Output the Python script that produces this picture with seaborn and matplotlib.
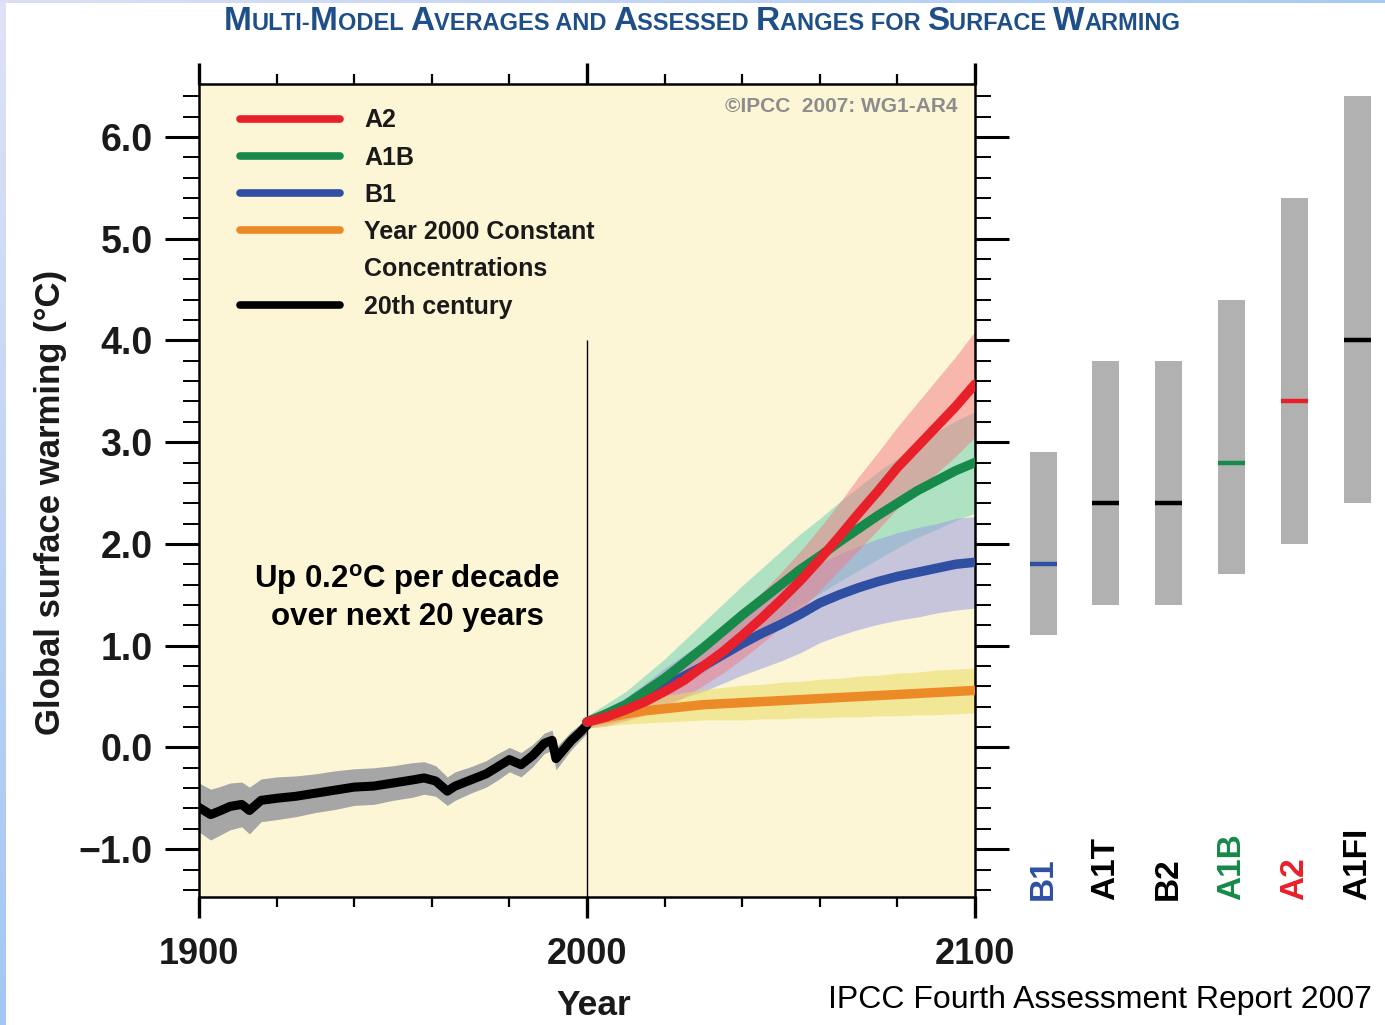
import numpy as np
import pandas as pd
import seaborn as sns
import matplotlib.pyplot as plt
from matplotlib.lines import Line2D
from matplotlib.colors import LinearSegmentedColormap
from matplotlib.ticker import MultipleLocator, FuncFormatter
from matplotlib.offsetbox import TextArea, HPacker, AnchoredOffsetbox

# ---------------- data ----------------
hist_years = [1900, 1903, 1905, 1908, 1911, 1913, 1916, 1920, 1925, 1930, 1935,
              1940, 1945, 1950, 1955, 1958, 1961, 1964, 1966, 1970, 1974, 1977,
              1980, 1983, 1986, 1989, 1991, 1992, 1994, 1996, 1998, 2000]
hist_mean = [-0.59, -0.66, -0.63, -0.58, -0.56, -0.62, -0.52, -0.50, -0.48, -0.45, -0.42,
             -0.39, -0.38, -0.35, -0.32, -0.30, -0.33, -0.43, -0.38, -0.32, -0.26, -0.19,
             -0.12, -0.17, -0.08, 0.04, 0.07, -0.11, -0.02, 0.07, 0.14, 0.22]
hist_spread = [0.24, 0.25, 0.24, 0.23, 0.22, 0.23, 0.21, 0.21, 0.20, 0.19, 0.19,
               0.18, 0.18, 0.17, 0.17, 0.16, 0.15, 0.14, 0.14, 0.13, 0.13, 0.13,
               0.12, 0.12, 0.11, 0.10, 0.10, 0.11, 0.10, 0.09, 0.08, 0.08]

proj_years = [2000, 2005, 2010, 2015, 2020, 2025, 2030, 2035, 2040, 2045, 2050,
              2055, 2060, 2065, 2070, 2075, 2080, 2085, 2090, 2095, 2100]
a2_mean = [0.25, 0.30, 0.37, 0.45, 0.55, 0.66, 0.80, 0.94, 1.10, 1.27, 1.45,
           1.64, 1.85, 2.07, 2.30, 2.52, 2.75, 2.95, 3.15, 3.35, 3.57]
a2_spread = [0.06, 0.09, 0.11, 0.13, 0.15, 0.17, 0.19, 0.21, 0.23, 0.25, 0.27,
             0.29, 0.31, 0.33, 0.36, 0.38, 0.40, 0.43, 0.46, 0.49, 0.52]
a1b_mean = [0.25, 0.33, 0.42, 0.55, 0.68, 0.83, 0.98, 1.14, 1.30, 1.45, 1.60,
            1.75, 1.88, 2.02, 2.15, 2.28, 2.40, 2.52, 2.62, 2.72, 2.80]
a1b_spread = [0.06, 0.10, 0.13, 0.16, 0.19, 0.22, 0.25, 0.27, 0.29, 0.31, 0.33,
              0.35, 0.37, 0.39, 0.41, 0.43, 0.44, 0.46, 0.48, 0.49, 0.50]
b1_mean = [0.25, 0.31, 0.38, 0.49, 0.60, 0.70, 0.80, 0.91, 1.02, 1.12, 1.21,
           1.31, 1.42, 1.50, 1.57, 1.63, 1.68, 1.72, 1.76, 1.80, 1.82]
b1_spread = [0.06, 0.08, 0.11, 0.14, 0.18, 0.21, 0.25, 0.28, 0.31, 0.34, 0.36,
             0.38, 0.39, 0.40, 0.41, 0.42, 0.43, 0.44, 0.44, 0.45, 0.45]
const_mean = [0.25, 0.29, 0.33, 0.36, 0.38, 0.40, 0.42, 0.43, 0.44, 0.45, 0.46,
              0.47, 0.48, 0.49, 0.50, 0.51, 0.52, 0.53, 0.54, 0.55, 0.56]
const_spread = [0.06, 0.08, 0.10, 0.12, 0.13, 0.14, 0.15, 0.16, 0.17, 0.17, 0.18,
                0.18, 0.19, 0.19, 0.20, 0.20, 0.21, 0.21, 0.22, 0.22, 0.22]

# likely ranges and best estimates for 2090-2099
scenarios = ["B1", "A1T", "B2", "A1B", "A2", "A1FI"]
range_low = [1.1, 1.4, 1.4, 1.7, 2.0, 2.4]
range_high = [2.9, 3.8, 3.8, 4.4, 5.4, 6.4]
best_est = [1.8, 2.4, 2.4, 2.8, 3.4, 4.0]

# ---------------- styling ----------------
RED, GREEN, BLUE, ORANGE = "#e8202a", "#17894a", "#2f4fa3", "#ec8a28"
scen_colors = [BLUE, "black", "black", GREEN, RED, "black"]
CREAM = "#fdf6d6"

sns.set_theme(style="ticks")
plt.rcParams["font.family"] = ["Liberation Sans", "DejaVu Sans"]
plt.rcParams["mathtext.fontset"] = "custom"
plt.rcParams["mathtext.rm"] = "Liberation Sans"
plt.rcParams["mathtext.bf"] = "Liberation Sans:bold"

W, H = 1385, 1025
fig = plt.figure(figsize=(W / 100, H / 100), dpi=100)
fig.patch.set_facecolor("white")

# decorative slide borders
left_strip = fig.add_axes([0, 0, 6 / W, 1])
left_strip.imshow(np.linspace(0, 1, 256).reshape(-1, 1), aspect="auto",
                  cmap=LinearSegmentedColormap.from_list("ls", ["#dfe2f4", "#a2c7f4"]))
left_strip.set_axis_off()
top_strip = fig.add_axes([0, 1 - 3 / H, 1, 3 / H])
top_strip.imshow(np.linspace(0, 1, 256).reshape(1, -1), aspect="auto",
                 cmap=LinearSegmentedColormap.from_list("ts", ["#dcdff3", "#a6caf5"]))
top_strip.set_axis_off()

YLIM = (-1.47, 6.52)

# ---------------- main time-series panel ----------------
ax = fig.add_axes([199 / W, 1 - 897 / H, 776 / W, 813 / H])
ax.set_facecolor(CREAM)
ax.set_xlim(1900, 2100)
ax.set_ylim(*YLIM)

hy = np.array(hist_years)
hm = np.array(hist_mean)
hs = np.array(hist_spread)
ax.fill_between(hy, hm - hs, hm + hs, color="#a6a6a6", lw=0, zorder=1)

py = np.array(proj_years)
bands = [
    (np.array(a1b_mean), np.array(a1b_spread), "#62d0b0", 0.50),
    (np.array(b1_mean), np.array(b1_spread), "#9c9ee0", 0.55),
    (np.array(a2_mean), np.array(a2_spread), "#f27a86", 0.50),
    (np.array(const_mean), np.array(const_spread), "#e9dc62", 0.55),
]
for m, s, c, a in bands:
    ax.fill_between(py, m - s, m + s, color=c, alpha=a, lw=0, zorder=1)

ax.vlines(2000, YLIM[0], 4.0, color="black", lw=1.0, zorder=2)

line_w = 6.8
sns.lineplot(x=hist_years, y=hist_mean, ax=ax, color="black", lw=6.5, zorder=3)
sns.lineplot(x=proj_years, y=const_mean, ax=ax, color=ORANGE, lw=line_w, zorder=3)
sns.lineplot(x=proj_years, y=b1_mean, ax=ax, color=BLUE, lw=line_w, zorder=3)
sns.lineplot(x=proj_years, y=a1b_mean, ax=ax, color=GREEN, lw=line_w, zorder=3)
sns.lineplot(x=proj_years, y=a2_mean, ax=ax, color=RED, lw=line_w, zorder=4)

ax.xaxis.set_major_locator(MultipleLocator(100))
ax.xaxis.set_minor_locator(MultipleLocator(20))
ax.yaxis.set_major_locator(MultipleLocator(1))
ax.yaxis.set_minor_locator(MultipleLocator(0.2))
ax.yaxis.set_major_formatter(FuncFormatter(lambda v, p: f"{v:.1f}".replace("-", "\u2212")))
ax.xaxis.set_major_formatter(FuncFormatter(lambda v, p: f"{v:.0f}"))
ax.tick_params(axis="both", which="both", direction="out", top=True, right=True,
               labeltop=False, labelright=False, colors="black")
ax.tick_params(axis="y", which="major", length=24.5, width=2.2, pad=9, labelsize=27)
ax.tick_params(axis="y", which="minor", length=11.5, width=1.4)
ax.tick_params(axis="x", which="major", length=15, width=2.4, pad=14, labelsize=26)
ax.tick_params(axis="x", which="minor", length=7.5, width=1.6)
for lab in ax.get_xticklabels() + ax.get_yticklabels():
    lab.set_fontweight("bold")
    lab.set_color("#1a1a1a")
for sp in ax.spines.values():
    sp.set_linewidth(1.8)
    sp.set_color("black")
    sp.set_visible(True)

ax.set_ylabel("Global surface warming (\u00b0C)", fontsize=25, fontweight="bold",
              color="#1a1a1a", va="center", ha="center")
ax.yaxis.set_label_coords(-0.192, 0.485)
ax.set_xlabel("Year", fontsize=25.5, fontweight="bold", color="#1a1a1a",
              va="center", ha="center")
ax.xaxis.set_label_coords(0.509, -0.133)

# legend
handles = [
    Line2D([], [], color=RED, lw=5.5, solid_capstyle="round"),
    Line2D([], [], color=GREEN, lw=5.5, solid_capstyle="round"),
    Line2D([], [], color=BLUE, lw=5.5, solid_capstyle="round"),
    Line2D([], [], color=ORANGE, lw=5.5, solid_capstyle="round"),
    Line2D([], [], color="none", lw=0),
    Line2D([], [], color="black", lw=5.5, solid_capstyle="round"),
]
labels = ["A2", "A1B", "B1", "Year 2000 Constant", "Concentrations", "20th century"]
leg = ax.legend(handles, labels, loc="upper left", bbox_to_anchor=(0.053, 0.970),
                frameon=False, fontsize=18, handlelength=4.0, handletextpad=0.95,
                labelspacing=0.53, borderpad=0, borderaxespad=0)
for t in leg.get_texts():
    t.set_fontweight("bold")
    t.set_color("#1a1a1a")

ax.text(0.977, 0.972, "\u00a9IPCC  2007: WG1-AR4", transform=ax.transAxes,
        ha="right", va="center", fontsize=15, fontweight="bold", color="#8c8c8c")

ax.text(0.268, 0.369, "Up 0.2$^{\\mathbf{o}}$C per decade\nover next 20 years",
        transform=ax.transAxes, ha="center", va="center", fontsize=22.5,
        fontweight="bold", color="black", linespacing=1.25)

# ---------------- likely-range bars ----------------
ax2 = fig.add_axes([1011.6 / W, 1 - 897 / H, 377 / W, 813 / H])
ax2.set_xlim(-0.5, 5.5)
ax2.set_ylim(*YLIM)
ax2.set_axis_off()
idx = np.arange(len(scenarios))
lo = np.array(range_low)
hi = np.array(range_high)
ax2.bar(idx, hi - lo, bottom=lo, width=0.43, color="#b1b1b1", lw=0)
ax2.hlines(best_est, idx - 0.215, idx + 0.215, colors=scen_colors, lw=3.2)
for i, (name, c) in enumerate(zip(scenarios, scen_colors)):
    ax2.text(i, -1.50, name, rotation=90, ha="center", va="bottom",
             fontsize=24, fontweight="bold", color=c, clip_on=False)

# ---------------- small-caps title ----------------
TITLE_COLOR = "#1f4f88"
parts = [("M", 1), ("ULTI-", 0), ("M", 1), ("ODEL ", 0), ("A", 1), ("VERAGES AND ", 0),
         ("A", 1), ("SSESSED ", 0), ("R", 1), ("ANGES FOR ", 0), ("S", 1), ("URFACE ", 0),
         ("W", 1), ("ARMING", 0)]
boxes = [TextArea(s, textprops=dict(fontsize=24 if big else 17, fontweight="bold",
                                    color=TITLE_COLOR)) for s, big in parts]
title_box = AnchoredOffsetbox(loc="upper center", child=HPacker(children=boxes, align="baseline",
                                                                 pad=0, sep=0),
                              bbox_to_anchor=(702 / W, 1 - 6 / H),
                              bbox_transform=fig.transFigure, frameon=False,
                              pad=0, borderpad=0)
fig.add_artist(title_box)

fig.text(1372 / W, 1 - 1000 / H, "IPCC Fourth Assessment Report 2007", ha="right",
         va="center", fontsize=23, color="black")

fig.savefig("out.png", dpi=100, facecolor=fig.get_facecolor())
